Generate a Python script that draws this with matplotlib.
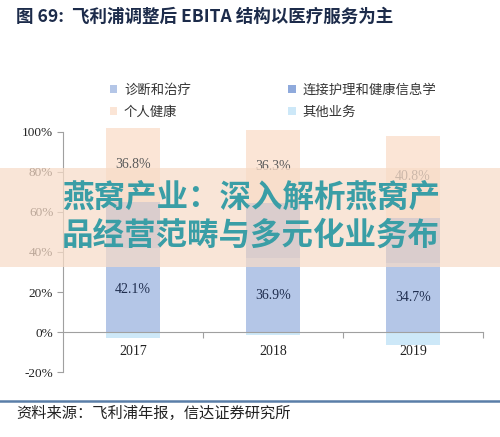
import matplotlib
matplotlib.use("Agg")
import matplotlib.pyplot as plt
from matplotlib.patches import Patch, Rectangle
import numpy as np

years = ["2017", "2018", "2019"]
diag = [42.1, 36.9, 34.7]          # 诊断和治疗
care = [23.0, 27.8, 22.5]          # 连接护理和健康信息学 (estimated)
personal = [36.8, 36.3, 40.8]      # 个人健康
other = [-3.0, -1.5, -6.5]         # 其他业务 (estimated)
yticks = [-20, 0, 20, 40, 60, 80, 100]

names = ["诊断和治疗", "连接护理和健康信息学", "个人健康", "其他业务"]
colors = ["#b4c6e7", "#8faadc", "#fbe5d6", "#cde8f8"]

CJK = ["Noto Sans CJK SC", "DejaVu Sans"]
SERIF = ["Liberation Serif", "DejaVu Serif"]

fig = plt.figure(figsize=(5.0, 4.37), dpi=100)
ax = fig.add_axes([0.126, 0.1487, 0.84, 0.5493])

x = np.arange(len(years))
w = 0.39
diag_a = np.array(diag); care_a = np.array(care); pers_a = np.array(personal)
ax.bar(x, diag_a, w, color=colors[0], zorder=2, clip_on=False)
ax.bar(x, care_a, w, bottom=diag_a, color=colors[1], zorder=2, clip_on=False)
ax.bar(x, pers_a, w, bottom=diag_a + care_a, color=colors[2], zorder=2, clip_on=False)
ax.bar(x, other, w, color=colors[3], zorder=2, clip_on=False)

for i in range(len(years)):
    ax.text(x[i], diag[i] / 2, f"{diag[i]:.1f}%", ha="center", va="center",
            family=SERIF, fontsize=10, color="#1f2d4e", zorder=3)
    ax.text(x[i], diag[i] + care[i] + personal[i] / 2, f"{personal[i]:.1f}%",
            ha="center", va="center", family=SERIF, fontsize=10, color="#595959", zorder=3)

ax.set_xlim(-0.5, 2.5)
ax.set_ylim(-20, 100)
ax.set_yticks(yticks)
ax.set_yticklabels([f"{v}%" for v in yticks], family=SERIF, fontsize=9.5, color="#222222")
ax.tick_params(axis="y", direction="out", length=4, color="#a0a0a0", pad=3)

for s in ["top", "right"]:
    ax.spines[s].set_visible(False)
ax.spines["left"].set_color("#a0a0a0")
ax.spines["bottom"].set_position(("data", 0))
ax.spines["bottom"].set_color("#a0a0a0")
ax.spines["bottom"].set_zorder(4)

ax.set_xticks([0.5, 1.5, 2.5])
ax.set_xticklabels([])
ax.tick_params(axis="x", which="major", direction="out", length=4, color="#a0a0a0")
ax.set_xticks(x, minor=True)
ax.set_xticklabels(years, minor=True, family=SERIF, fontsize=10, color="#222222")
ax.tick_params(axis="x", which="minor", length=0, pad=9)

handles = [Patch(facecolor=colors[0]), Patch(facecolor=colors[2]),
           Patch(facecolor=colors[1]), Patch(facecolor=colors[3])]
labels = [names[0], names[2], names[1], names[3]]
fig.legend(handles, labels, ncol=2, loc="upper left", bbox_to_anchor=(0.196, 0.838),
           frameon=False, prop={"family": CJK, "size": 9.6}, handlelength=0.55,
           handleheight=0.55, handletextpad=0.5, columnspacing=7.3, labelspacing=0.6,
           labelcolor="#333333")

fig.text(0.032, 0.962, "图 69:  飞利浦调整后 EBITA 结构以医疗服务为主", family=CJK,
         fontsize=12.6, fontweight="bold", color="#1c2b4a", ha="left", va="center")

fig.add_artist(plt.Line2D([0, 1], [1 - 401 / 437, 1 - 401 / 437], transform=fig.transFigure,
                          color="#5a7ea8", linewidth=1.8))
fig.text(0.032, 1 - 413 / 437, "资料来源：飞利浦年报，信达证券研究所", family=CJK,
         fontsize=11, style="italic", color="#222222", ha="left", va="center")

# watermark overlay band
fig.add_artist(Rectangle((0, 1 - 267 / 437), 1, (267 - 168) / 437, transform=fig.transFigure,
                         facecolor="#f8dcc8", alpha=0.72, edgecolor="none", zorder=10))
fig.text(0.124, 1 - 198 / 437, "燕窝产业：深入解析燕窝产", family=CJK, fontsize=22.7,
         fontweight="bold", color="#3a9ea6", ha="left", va="center", zorder=11)
fig.text(0.124, 1 - 236 / 437, "品经营范畴与多元化业务布", family=CJK, fontsize=22.7,
         fontweight="bold", color="#3a9ea6", ha="left", va="center", zorder=11)

fig.savefig("out.png", dpi=100)
